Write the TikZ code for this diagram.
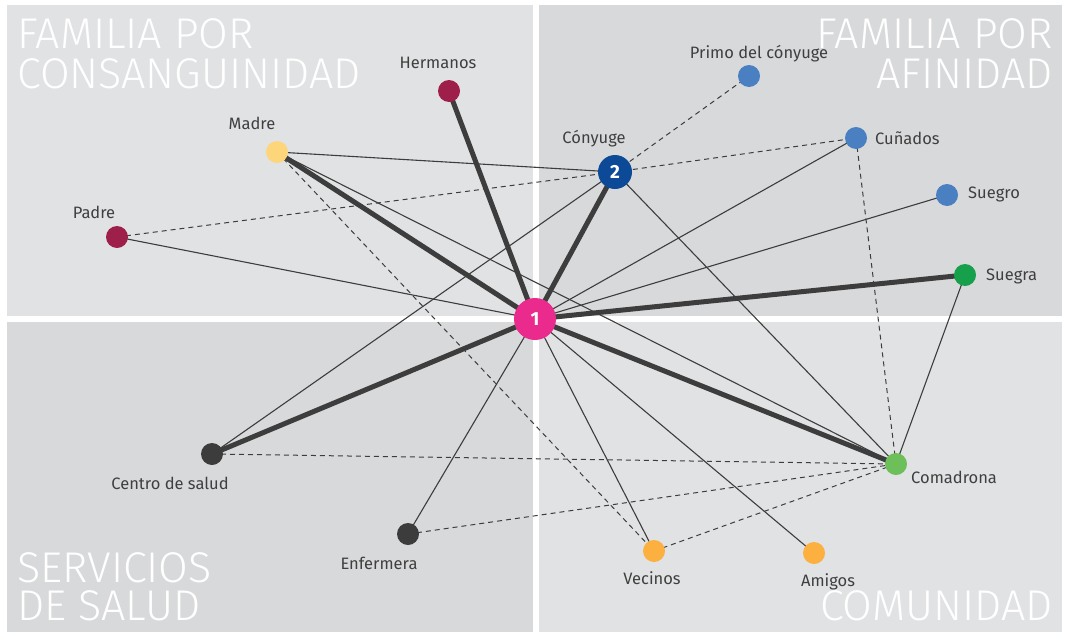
\documentclass[tikz,border=0pt]{standalone}
\usepackage{fontspec}
\setmainfont{Fira Sans}
\newfontfamily\lightfont{Fira Sans Light}
\definecolor{panL}{HTML}{E1E2E4}
\definecolor{panD}{HTML}{D8D9DB}
\definecolor{edgec}{HTML}{3D3D3D}
\definecolor{txt}{HTML}{3F3F3F}
\definecolor{cpink}{HTML}{EA2A8C}
\definecolor{cnavy}{HTML}{0C4A97}
\definecolor{ccrim}{HTML}{9E1F4A}
\definecolor{cyell}{HTML}{FDD57A}
\definecolor{cblue}{HTML}{4A80C1}
\definecolor{cgreen}{HTML}{17A04B}
\definecolor{clgreen}{HTML}{6CBF59}
\definecolor{cdark}{HTML}{3C3C3C}
\definecolor{corange}{HTML}{FBB03F}
\pgfdeclarelayer{bg}
\pgfdeclarelayer{edges}
\pgfsetlayers{bg,edges,main}
\begin{document}
\begin{tikzpicture}[x=1pt,y=-1pt,
  dot/.style={circle, minimum size=22pt, inner sep=0pt, draw=none},
  bigdot/.style={circle, inner sep=0pt, draw=none, text=white, font=\bfseries\fontsize{19}{19}\selectfont},
  lbl/.style={font=\fontsize{16.5}{19}\selectfont, text=txt, inner sep=0pt},
  ttl/.style={font=\lightfont\fontsize{43}{43}\selectfont, text=white, inner sep=0pt},
  heavy/.style={line width=5pt, draw=edgec},
  lite/.style={line width=1.1pt, draw=edgec},
  dsh/.style={line width=1pt, draw=edgec, dash pattern=on 5pt off 4pt}]
\useasboundingbox (0,0) rectangle (1065,632);
\begin{pgfonlayer}{bg}
\fill[white] (0,0) rectangle (1065,632);
\fill[panL] (7,5) rectangle (533,316);
\fill[panD] (539,5) rectangle (1062,316);
\fill[panD] (7,322) rectangle (533,632);
\fill[panL] (539,322) rectangle (1062,632);
\end{pgfonlayer}
% titles
\node[ttl, anchor=base west] (t1a) at (17,48) {FAMILIA POR};
\node[ttl, anchor=base west] (t1b) at (17,88) {CONSANGUINIDAD};
\node[ttl, anchor=base east] (t2a) at (1053,48) {FAMILIA POR};
\node[ttl, anchor=base east] (t2b) at (1053,88) {AFINIDAD};
\node[ttl, anchor=base west] (t3a) at (17,582) {SERVICIOS};
\node[ttl, anchor=base west] (t3b) at (17,620) {DE SALUD};
\node[ttl, anchor=base east] (t4) at (1053,620) {COMUNIDAD};
% nodes
\node[bigdot, fill=cpink, minimum size=42pt] (n1) at (535,319) {1};
\node[bigdot, fill=cnavy, minimum size=34pt] (n2) at (615,172) {2};
\node[dot, fill=ccrim] (her) at (449,91) {};
\node[dot, fill=cyell] (madre) at (277,152) {};
\node[dot, fill=ccrim] (padre) at (117,237) {};
\node[dot, fill=cblue] (primo) at (749,76) {};
\node[dot, fill=cblue] (cun) at (856,138) {};
\node[dot, fill=cblue] (suegro) at (947,195) {};
\node[dot, fill=cgreen] (suegra) at (965,275) {};
\node[dot, fill=clgreen] (coma) at (896,464) {};
\node[dot, fill=cdark] (centro) at (212,454) {};
\node[dot, fill=cdark] (enf) at (408,534) {};
\node[dot, fill=corange] (vec) at (654,551) {};
\node[dot, fill=corange] (ami) at (814,553) {};
% labels
\node[lbl, anchor=base] (lher) at (438,68) {Hermanos};
\node[lbl, anchor=base] (lmadre) at (252,129) {Madre};
\node[lbl, anchor=base] (lpadre) at (94,218) {Padre};
\node[lbl, anchor=base] (lprimo) at (759,58) {Primo del cónyuge};
\node[lbl, anchor=base] (lcony) at (594,143) {Cónyuge};
\node[lbl, anchor=base west] (lcun) at (875,144) {Cuñados};
\node[lbl, anchor=base west] (lsuegro) at (968,198) {Suegro};
\node[lbl, anchor=base west] (lsuegra) at (986,280) {Suegra};
\node[lbl, anchor=base west] (lcoma) at (911,483) {Comadrona};
\node[lbl, anchor=base] (lcentro) at (170,489) {Centro de salud};
\node[lbl, anchor=base] (lenf) at (379,569) {Enfermera};
\node[lbl, anchor=base] (lvec) at (652,584) {Vecinos};
\node[lbl, anchor=base] (lami) at (828,586) {Amigos};
% edges
\begin{pgfonlayer}{edges}
\draw[lite] (n1.center) -- (padre.center);
\draw[lite] (n1.center) -- (cun.center);
\draw[lite] (n1.center) -- (suegro.center);
\draw[lite] (n1.center) -- (enf.center);
\draw[lite] (n1.center) -- (vec.center);
\draw[lite] (n1.center) -- (ami.center);
\draw[lite] (madre.center) -- (n2.center);
\draw[lite] (madre.center) -- (coma.center);
\draw[lite] (n2.center) -- (centro.center);
\draw[lite] (n2.center) -- (coma.center);
\draw[lite] (suegra.center) -- (coma.center);
\draw[dsh] (padre.center) -- (n2.center);
\draw[dsh] (n2.center) -- (cun.center);
\draw[dsh] (n2.center) -- (primo.center);
\draw[dsh] (madre.center) -- (vec.center);
\draw[dsh] (cun.center) -- (coma.center);
\draw[dsh] (centro.center) -- (coma.center);
\draw[dsh] (enf.center) -- (coma.center);
\draw[dsh] (vec.center) -- (coma.center);
\draw[heavy] (n1.center) -- (her.center);
\draw[heavy] (n1.center) -- (madre.center);
\draw[heavy] (n1.center) -- (n2.center);
\draw[heavy] (n1.center) -- (suegra.center);
\draw[heavy] (n1.center) -- (coma.center);
\draw[heavy] (n1.center) -- (centro.center);
\end{pgfonlayer}
\end{tikzpicture}
\end{document}
